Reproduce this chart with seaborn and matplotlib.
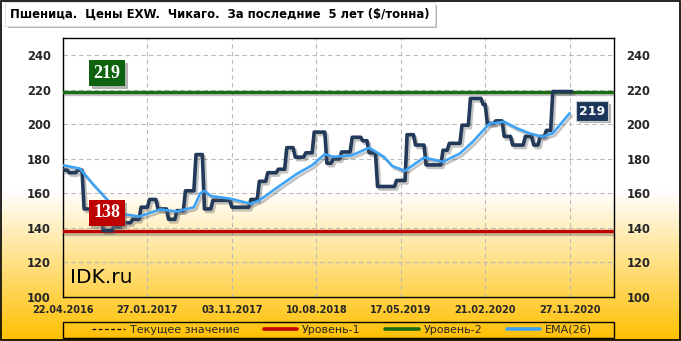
import numpy as np
import pandas as pd
import matplotlib
matplotlib.use("Agg")
import matplotlib.pyplot as plt
import matplotlib.patheffects as pe
from matplotlib.lines import Line2D
import seaborn as sns

# ---------------- data ----------------
title = "Пшеница.  Цены EXW.  Чикаго.  За последние  5 лет ($/тонна)"
start_date = "2016-04-22"
# weekly price, stored as (level, number of weeks held)
price_levels = [173.5, 172, 173.5, 151, 138.5, 140.5, 143, 145, 152, 156.5,
                151, 145, 150, 161.5, 182.5, 151, 156, 152, 156.5, 167,
                172, 174, 186.5, 181, 183.5, 195.5, 177.5, 180, 184, 192.5,
                190.5, 183.5, 164, 167.5, 194, 188, 176.5, 185, 189, 199.5,
                215, 211.5, 200.5, 202, 193, 188, 193, 188, 193, 196.5, 219]
price_weeks = [3, 4, 3, 9, 5, 4, 5, 4, 4, 4,
               5, 4, 4, 5, 4, 4, 9, 9, 4, 4,
               5, 4, 4, 5, 4, 6, 3, 4, 5, 5,
               3, 4, 9, 5, 4, 5, 8, 3, 6, 4,
               6, 2, 4, 4, 4, 6, 4, 3, 3, 3, 10]
# EMA(26): week index -> value
ema_week = [0, 8, 14, 22, 28, 36, 46, 54, 62, 65, 67, 70, 79, 89, 93, 103,
            111, 118, 124, 128, 137, 145, 152, 156, 162, 171, 180, 188, 194,
            202, 209, 215, 221, 227, 232, 240]
ema_values = [176.3, 174.4, 165.6, 155, 148.2, 146.6, 150.7, 149.5, 152, 160,
              161.5, 158.5, 157, 154, 156, 164.7, 171.5, 176.3, 182.7, 181.2,
              182.1, 186.5, 181.2, 175.8, 173.1, 180.8, 178.3, 183.1, 189.8,
              200.4, 201.5, 197.7, 194.8, 192.8, 194.8, 206.4]
level_1 = 138
level_2 = 219
current_value = 219
y_ticks = [100, 120, 140, 160, 180, 200, 220, 240]
x_tick_labels = ["22.04.2016", "27.01.2017", "03.11.2017", "10.08.2018",
                 "17.05.2019", "21.02.2020", "27.11.2020"]
legend_labels = ["Текущее значение", "Уровень-1", "Уровень-2", "EMA(26)"]

# ---------------- build frames ----------------
price = np.repeat(price_levels, price_weeks)
dates = pd.date_range(start_date, periods=len(price), freq="7D")
df_price = pd.DataFrame({"date": dates, "price": price})
df_ema = pd.DataFrame({"date": pd.Timestamp(start_date) + pd.to_timedelta(np.array(ema_week) * 7, unit="D"),
                       "ema": ema_values})
tick_dates = pd.to_datetime(x_tick_labels, format="%d.%m.%Y")

# ---------------- style ----------------
sns.set_style("white")
plt.rcParams["font.family"] = ["DejaVu Sans"]

W, H = 681, 341
fig = plt.figure(figsize=(W / 100, H / 100), dpi=100)

# gradient background
bg = fig.add_axes([0, 0, 1, 1], zorder=-10)
t = np.linspace(0, 1, 400)
tt = np.clip((t - 0.56) / 0.44, 0, 1) ** 1.0
top = np.array([1.0, 1.0, 1.0])
bot = np.array([1.0, 0.75, 0.0])
grad = top[None, :] * (1 - tt[:, None]) + bot[None, :] * tt[:, None]
bg.imshow(grad[:, None, :], aspect="auto", extent=[0, 1, 0, 1], origin="upper")
bg.set_xlim(0, 1)
bg.set_ylim(0, 1)
bg.set_axis_off()
bg.add_patch(plt.Rectangle((0.0008, 0.0015), 0.998, 0.996, fill=False, lw=1.2,
                           ec="black", transform=bg.transAxes))

L, R, T, B = 63, 614, 38, 297
ax = fig.add_axes([L / W, 1 - B / H, (R - L) / W, (B - T) / H])
ax.patch.set_alpha(0)

shadow = [pe.SimpleLineShadow(offset=(1.5, -1.8), shadow_color="#555555", alpha=0.35), pe.Normal()]
patch_shadow = [pe.withSimplePatchShadow(offset=(2, -2), shadow_rgbFace="#777777", alpha=0.55)]

ax.axhline(current_value, color="black", lw=0.5, ls=(0, (3, 2)), zorder=2)
ax.axhline(level_1, color="#C00000", lw=2.4, zorder=3, path_effects=shadow)
ax.axhline(level_2, color="#1A6B12", lw=2.4, zorder=3, path_effects=shadow)

sns.lineplot(data=df_price, x="date", y="price", ax=ax, color="#22395A", lw=2.6,
             zorder=5, path_effects=shadow)
sns.lineplot(data=df_ema, x="date", y="ema", ax=ax, color="#3FA3F5", lw=1.9,
             zorder=6, path_effects=shadow)

ax.set_ylim(100, 250)
ax.set_xlim(pd.Timestamp(start_date), pd.Timestamp(start_date) + pd.Timedelta(days=7 * 261))
ax.set_yticks(y_ticks)
ax.set_xticks(tick_dates)
ax.set_xticklabels(x_tick_labels)
ax.set_xlabel("")
ax.set_ylabel("")
ax.grid(True, color="#BBBBBB", ls=(0, (4, 3)), lw=0.8)
for s in ax.spines.values():
    s.set_color("black")
    s.set_linewidth(1.0)
ax.tick_params(axis="y", length=0, pad=9, labelsize=8.3, labelright=True, right=False)
ax.tick_params(axis="x", length=0, pad=6, labelsize=7.0)
for lab in ax.get_yticklabels() + ax.get_xticklabels():
    lab.set_fontweight("bold")

# watermark
ax.text(0.013, 0.04, "IDK.ru", transform=ax.transAxes, fontsize=14.5, color="black",
        ha="left", va="bottom")

# value boxes
for (x, y, txt, fc, fam, size, ec) in [
        (0.080, 0.863, str(level_2), "#0E640E", "Liberation Serif", 13, "none"),
        (0.079, 0.325, str(level_1), "#BE0000", "Liberation Serif", 13, "none"),
        (0.960, 0.718, str(current_value), "#1B365A", "DejaVu Sans", 9, "#CCCCCC")]:
    tx = ax.text(x, y, txt, transform=ax.transAxes, ha="center", va="center",
                 color="white", fontsize=size, fontweight="bold", family=fam,
                 bbox=dict(boxstyle="square,pad=0.25", fc=fc, ec=ec, lw=0.8),
                 zorder=10)
    tx.get_bbox_patch().set_path_effects(patch_shadow)

# title box
tt_ = fig.text(10 / W, 1 - 14 / H, title, ha="left", va="center", fontsize=8.35,
               fontweight="bold", color="black",
               bbox=dict(boxstyle="square,pad=0.45", fc="white", ec="#DDDDDD", lw=0.6))
tt_.get_bbox_patch().set_path_effects(patch_shadow)

# legend frame (full plot width) + centred entries
bg.add_patch(plt.Rectangle((L / W, 1 - 338 / H), (R - L) / W, 16 / H, fill=False,
                           ec="black", lw=1.0, transform=bg.transAxes, zorder=5))
handles = [Line2D([], [], color="black", lw=0.9, ls=(0, (3, 2))),
           Line2D([], [], color="#C00000", lw=2.6),
           Line2D([], [], color="#1A6B12", lw=2.6),
           Line2D([], [], color="#3FA3F5", lw=2.6)]
leg = fig.legend(handles, legend_labels, loc="center", ncol=4,
                 bbox_to_anchor=((L + R) / 2 / W + 0.005, 1 - 330 / H),
                 fontsize=8.0, frameon=False,
                 handlelength=3.0, handletextpad=0.45, borderpad=0.0,
                 borderaxespad=0, columnspacing=2.2)

fig.savefig("out.png", dpi=100)
